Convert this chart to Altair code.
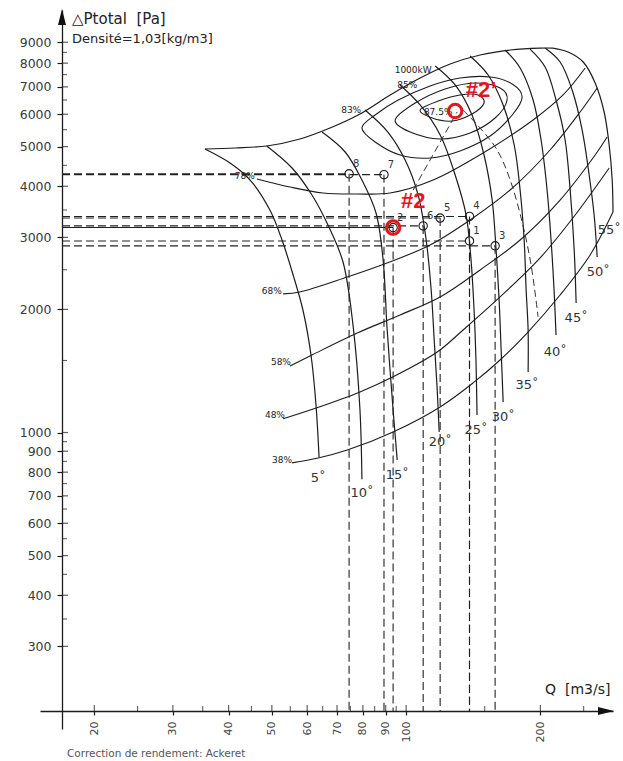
import altair as alt
import pandas as pd

# ---------------- fan map data: (Q [m3/s], total pressure rise [Pa]) ----------------
# upper stall envelope (starts at the 5 degree curve, ends where the 55 degree curve begins)
envelope = [(35.4, 4934), (41.4, 4962), (48.7, 5018), (57.8, 5219), (67.5, 5552), (78.8, 6009),
            (92.1, 6687), (107.5, 7357), (125.5, 7962), (146.5, 8374), (171.1, 8613), (199.7, 8708),
            (213.5, 8708)]

# blade angle characteristics
blade_05 = [(35.4, 4934), (40.3, 4560), (44.7, 4143), (49.5, 3499), (52.7, 2956), (55.8, 2428),
            (58.7, 1993), (61.2, 1547), (62.8, 1168), (63.8, 871)]
blade_10 = [(48.7, 5018), (55.5, 4433), (61.5, 3808), (66.8, 3216), (72.2, 2611), (76.1, 1812),
            (78.8, 1135), (79.6, 769)]
blade_15 = [(64.8, 5428), (73.0, 4851), (79.6, 4143), (85.6, 3441), (88.8, 2641), (90.6, 1812),
            (93.5, 1135), (95.5, 857)]
blade_20 = [(80.9, 6145), (91.0, 5428), (99.5, 4638), (106.4, 3808), (110.9, 2956), (113.8, 2231),
            (115.6, 1684), (117.4, 1270), (118.6, 1003)]
blade_25 = [(96.9, 7075), (107.5, 6321), (119.2, 5338), (128.8, 4262), (136.3, 3402), (139.8, 2641),
            (142.0, 1993), (143.4, 1504), (144.2, 1104)]
blade_30 = [(116.2, 7873), (128.8, 7075), (140.5, 5975), (149.5, 4770), (155.9, 3702), (159.1, 2794),
            (161.6, 2109), (163.3, 1591), (165.0, 1188)]
blade_35 = [(139.1, 8327), (152.7, 7484), (165.0, 6321), (174.7, 5046), (180.1, 3917), (183.9, 2956),
            (185.8, 2231), (187.7, 1781), (187.7, 1406)]
blade_40 = [(166.7, 8613), (180.1, 7785), (192.6, 6501), (200.7, 5190), (207.0, 3917), (211.3, 2956),
            (214.6, 2231), (216.8, 1732)]
blade_45 = [(189.6, 8659), (204.9, 7829), (216.8, 6501), (227.2, 5190), (233.2, 3917), (238.1, 2794),
            (240.5, 2074)]
blade_50 = [(204.9, 8708), (221.4, 8052), (235.6, 6877), (248.1, 5490), (257.2, 4262), (263.9, 3402),
            (268.1, 2687)]
blade_55 = [(213.5, 8708), (230.7, 8517), (249.4, 8052), (265.3, 7155), (277.9, 6076), (285.2, 5046),
            (289.7, 4143), (290.9, 3460)]

angle_names = ["5˚", "10˚", "15˚", "20˚", "25˚", "30˚", "35˚", "40˚", "45˚", "50˚", "55˚"]
angle_label_q = [63.5, 79.6, 95.5, 119.2, 143.4, 165.0, 186.7, 215.8, 240.5, 269.5, 285.2]
angle_label_p = [775, 711, 787, 948, 1014, 1092, 1307, 1573, 1906, 2469, 3127]

# iso-efficiency lines (open)
eff_38 = [(55.5, 843), (63.5, 866), (73.8, 906), (93.5, 1003), (119.2, 1155), (141.3, 1322),
          (162.4, 1504), (186.7, 1751), (221.4, 2169), (258.5, 2717), (290.9, 3460)]
eff_48 = [(53.0, 1080), (63.1, 1149), (78.8, 1256), (93.5, 1368), (117.4, 1573), (134.2, 1781),
          (162.4, 2145), (199.7, 2672), (239.3, 3402), (285.2, 4433)]
eff_58 = [(54.9, 1454), (61.5, 1547), (77.7, 1751), (96.9, 1938), (119.2, 2145), (146.5, 2497),
          (180.1, 2956), (221.4, 3702), (265.3, 4770), (282.2, 5278)]
eff_68 = [(53.0, 2182), (57.8, 2206), (73.8, 2400), (90.6, 2597), (113.2, 2874), (139.1, 3308),
          (171.1, 3917), (210.2, 4906), (245.5, 6076), (268.1, 6956)]
eff_78 = [(46.3, 4167), (54.9, 3983), (65.1, 3851), (77.7, 3830), (92.1, 3851), (115.0, 4143),
          (148.8, 4824), (192.6, 5808), (224.8, 6687), (252.0, 7785)]
# iso-efficiency islands (closed)
eff_83 = [(79.6, 5552), (85.2, 5132), (96.9, 4770), (113.2, 4690), (132.1, 4879), (154.3, 5308),
          (172.9, 5975), (182.0, 6612), (172.9, 7115), (154.3, 7401), (132.1, 7357), (113.2, 7035),
          (96.0, 6501), (85.2, 5975)]
eff_85 = [(94.5, 5808), (102.1, 5428), (119.2, 5219), (139.1, 5398), (158.3, 5874), (168.4, 6501),
          (162.4, 6956), (142.7, 7155), (122.3, 6916), (104.8, 6392)]
eff_875 = [(107.5, 6145), (114.4, 5874), (126.8, 5775), (140.5, 6009), (149.5, 6392), (145.0, 6687),
           (132.1, 6687), (118.0, 6464)]

eff_names = ["38%", "48%", "58%", "68%", "78%", "83%", "85%", "87.5%", "1000kW"]
eff_label_q = [52.7, 50.8, 52.4, 50.0, 43.5, 75.3, 100.6, 118.0, 103.7]
eff_label_p = [857, 1104, 1487, 2218, 4238, 6145, 7075, 6076, 7697]

system_line = [(103.7, 3917), (130.1, 6076)]
power_line = [(134.2, 6145), (146.5, 5552), (160.0, 4906), (171.1, 4143), (182.0, 3271),
              (190.6, 2568), (197.6, 1917)]

# operating points
point_ids = ["1", "2", "3", "4", "5", "6", "7", "8"]
point_q = [138.7, 93.5, 158.3, 138.7, 119.2, 109.2, 89.2, 74.5]
point_p = [2940, 3170, 2860, 3375, 3345, 3200, 4270, 4290]

marked_names = ["#2", "#2’"]
marked_q = [93.5, 128.8]
marked_p = [3170, 6110]
marked_label_q = [103.7, 147.3]
marked_label_p = [3681, 6877]

# axis ticks
q_major = [20, 30, 40, 50, 60, 70, 80, 90, 100, 200]
q_minor = [25, 35, 45, 55, 65, 75, 85, 95, 150, 250]
p_major = [300, 400, 500, 600, 700, 800, 900, 1000, 2000, 3000, 4000, 5000, 6000, 7000, 8000, 9000]
p_minor = [350, 450, 550, 650, 750, 850, 950, 1500, 2500, 3500, 4500, 5500, 6500, 7500, 8500]

Q_AXIS = 16.93   # flow value where the pressure axis stands
P_AXIS = 208.5   # pressure value where the flow axis runs

# ---------------- helpers ----------------
def frame(named):
    rows = []
    for name, pts in named:
        for i, (q, p) in enumerate(pts):
            rows.append({"Q": q, "P": p, "curve": name, "i": i})
    return pd.DataFrame(rows)

INK = "#1c1c1c"
RED = "#e8141c"
FONT = "DejaVu Sans"

xs = alt.Scale(type="log", domain=[15.11, 290.9], nice=False, zero=False)
ys = alt.Scale(type="log", domain=[188.4, 10790], nice=False, zero=False)
x_axis = alt.Axis(
    values=q_major, orient="bottom", offset=-18, labelAngle=-90, labelPadding=6,
    labelFontSize=11, labelFont=FONT, labelColor="#444", tickSize=4, tickWidth=1.2,
    tickColor=INK, domainColor=INK, domainWidth=1.3, grid=False, title=None,
    labelOverlap=False, labelFlush=False, labelBound=False)
y_axis = alt.Axis(
    values=p_major, format="d", orient="left", offset=-22, labelPadding=6,
    labelFontSize=12.5, labelFont=FONT, labelColor="#3a3a3a", tickSize=5, tickWidth=1.2,
    tickColor=INK, domainColor=INK, domainWidth=1.3, grid=False, title=None,
    labelOverlap=False, labelFlush=False, labelBound=False)
X = alt.X("Q:Q", scale=xs, axis=x_axis)
Y = alt.Y("P:Q", scale=ys, axis=y_axis)

blades = frame([("05", blade_05), ("10", blade_10), ("15", blade_15), ("20", blade_20),
                ("25", blade_25), ("30", blade_30), ("35", blade_35), ("40", blade_40),
                ("45", blade_45), ("50", blade_50), ("55", blade_55), ("env", envelope)])
open_eff = frame([("38", eff_38), ("48", eff_48), ("58", eff_58), ("68", eff_68), ("78", eff_78)])
closed_eff = frame([("83", eff_83), ("85", eff_85), ("875", eff_875)])
dashed_curves = frame([("sys", system_line), ("pow", power_line)])

pts = pd.DataFrame({"id": point_ids, "Q": point_q, "P": point_p})
h_refs = pd.DataFrame({
    "Q": [Q_AXIS] * len(point_ids), "Q2": point_q, "P": point_p,
    "solid": [pid == "2" for pid in point_ids]})
v_refs = pd.DataFrame({"Q": point_q, "P": point_p, "P2": [P_AXIS] * len(point_ids)})

one = pd.DataFrame({"k": [0]})

# inner halves of the axis ticks (the axes draw the outer halves)
y_major_in = alt.Chart(pd.DataFrame({"P": p_major})).mark_tick(
    orient="horizontal", size=6, thickness=1.2, color=INK).encode(y=Y, x=alt.value(25))
y_minor_in = alt.Chart(pd.DataFrame({"P": p_minor})).mark_tick(
    orient="horizontal", size=5, thickness=1.1, color=INK).encode(y=Y, x=alt.value(24.5))
x_major_in = alt.Chart(pd.DataFrame({"Q": q_major})).mark_tick(
    orient="vertical", size=6, thickness=1.2, color=INK).encode(x=X, y=alt.value(698))
x_minor_in = alt.Chart(pd.DataFrame({"Q": q_minor})).mark_tick(
    orient="vertical", size=5, thickness=1.1, color=INK).encode(x=X, y=alt.value(698.5))

y_arrow = alt.Chart(one).mark_point(
    shape="M-0.5,1L0,-1L0.5,1Z", size=256, filled=True, color="#111", opacity=1
).encode(x=alt.value(22), y=alt.value(7))
x_arrow = alt.Chart(one).mark_point(
    shape="M-1,-0.5L1,0L-1,0.5Z", size=256, filled=True, color="#111", opacity=1
).encode(x=alt.value(566), y=alt.value(701))

def note(text, x, y, size, color="#222", weight="normal"):
    return alt.Chart(one).mark_text(
        text=text, align="left", baseline="middle", font=FONT, fontSize=size,
        color=color, fontWeight=weight
    ).encode(x=alt.value(x), y=alt.value(y))

titles = [
    note("△Ptotal\u00a0\u00a0[Pa]", 32, 9, 15),
    note("Densité=1,03[kg/m3]", 32, 29, 13),
    note("Q\u00a0\u00a0[m3/s]", 505, 680, 14),
    note("Correction de rendement: Ackeret", 27, 744, 10.5, color="#555"),
]

blade_lines = alt.Chart(blades).mark_line(
    interpolate="catmull-rom", color=INK, strokeWidth=1.2
).encode(x=X, y=Y, detail="curve:N", order="i:Q")
open_lines = alt.Chart(open_eff).mark_line(
    interpolate="catmull-rom", color=INK, strokeWidth=1.1
).encode(x=X, y=Y, detail="curve:N", order="i:Q")
closed_lines = alt.Chart(closed_eff).mark_line(
    interpolate="cardinal-closed", color=INK, strokeWidth=1.1
).encode(x=X, y=Y, detail="curve:N", order="i:Q")
dash_lines = alt.Chart(dashed_curves).mark_line(
    interpolate="catmull-rom", color="#333", strokeWidth=1.0, strokeDash=[7, 4]
).encode(x=X, y=Y, detail="curve:N", order="i:Q")

h_dashed = alt.Chart(h_refs).transform_filter("!datum.solid").mark_rule(
    color="#222", strokeWidth=1.1, strokeDash=[8, 4]
).encode(x=X, x2="Q2:Q", y=Y)
h_solid = alt.Chart(h_refs).transform_filter("datum.solid").mark_rule(
    color="#222", strokeWidth=1.1
).encode(x=X, x2="Q2:Q", y=Y)
v_dashed = alt.Chart(v_refs).mark_rule(
    color="#222", strokeWidth=1.1, strokeDash=[8, 4]
).encode(x=X, y=Y, y2="P2:Q")

circles = alt.Chart(pts).mark_point(
    shape="circle", size=70, filled=False, color=INK, strokeWidth=1.1, opacity=1
).encode(x=X, y=Y)
circle_ids = alt.Chart(pts).mark_text(
    font=FONT, fontSize=10, color="#333", dx=7, dy=-10
).encode(x=X, y=Y, text="id:N")

angle_text = alt.Chart(pd.DataFrame({"t": angle_names, "Q": angle_label_q, "P": angle_label_p})).mark_text(
    font=FONT, fontSize=13, color="#333"
).encode(x=X, y=Y, text="t:N")
eff_text = alt.Chart(pd.DataFrame({"t": eff_names, "Q": eff_label_q, "P": eff_label_p})).mark_text(
    font=FONT, fontSize=9, color="#222"
).encode(x=X, y=Y, text="t:N")

red_rings = alt.Chart(pd.DataFrame({"Q": marked_q, "P": marked_p})).mark_point(
    shape="circle", size=180, filled=False, color=RED, strokeWidth=3, opacity=1
).encode(x=X, y=Y)
red_text = alt.Chart(pd.DataFrame({"t": marked_names, "Q": marked_label_q, "P": marked_label_p})).mark_text(
    font="Liberation Sans", fontSize=22, fontWeight="bold", color=RED
).encode(x=X, y=Y, text="t:N")

chart = alt.layer(
    y_major_in, y_minor_in, x_major_in, x_minor_in, y_arrow, x_arrow,
    blade_lines, open_lines, closed_lines, dash_lines,
    h_dashed, v_dashed, h_solid,
    angle_text, eff_text, circles, circle_ids, red_rings, red_text, *titles
).properties(
    width=573, height=719,
    padding={"left": 40, "top": 10, "right": 10, "bottom": 32},
    autosize=alt.AutoSizeParams(type="none"),
    background="white",
).configure(font=FONT).configure_view(stroke=None)

chart.save("out.html", embed_options={"renderer": "svg", "actions": False})
